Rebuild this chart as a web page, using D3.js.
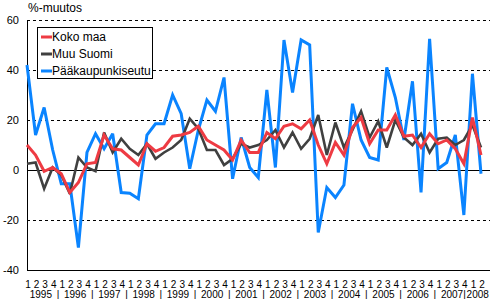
<!DOCTYPE html>
<html><head><meta charset="utf-8">
<script src="https://cdn.jsdelivr.net/npm/d3@7"></script>
<style>
html,body{margin:0;padding:0;background:#fff;}
svg{display:block;font-family:"Liberation Sans",Arial,sans-serif;}
</style></head>
<body><svg id="c" width="492" height="299"></svg>
<script>
const years = ["1995","1996","1997","1998","1999","2000","2001","2002","2003","2004","2005","2006","2007","2008"];
const quarters = ["1","2","3","4"];
const yTicks = [60, 40, 20, 0, -20, -40];
const kokoMaa = [10, 6, -0.5, 1, -1.5, -9, -5, 2.5, 3, 14, 8.5, 8, 5, 2, 10.5, 7.5, 9, 13.5, 14, 15, 17.5, 12, 10, 8, 4, 12, 7, 7, 15, 12.5, 17.5, 18.5, 16.5, 20, 10, 2.5, 11, 6, 17, 21, 10.5, 16, 16, 22, 13.5, 14, 9, 14.5, 10.5, 12, 8.5, 2.5, 21, 6];
const muuSuomi = [2.5, 3, -7.5, 1, -2, -9.5, 5, 1, -0.5, 15, 7, 12.5, 8.5, 6, 10.5, 4.5, 7, 9, 12, 20.5, 16.5, 8, 8, 2, 4.5, 10.5, 9, 10, 12, 16, 9, 15, 8.5, 12.5, 22, 6, 19, 9, 16, 23.5, 13, 19.5, 9, 20, 13, 10, 14.5, 7, 12.5, 13, 10, 12, 18, 9];
const paakaupunkiseutu = [42, 14, 25, 8, -5.5, -5.5, -31, 7, 14.5, 8.5, 14.5, -9, -9.3, -11.5, 14, 18.5, 18.5, 30, 22.5, 0.5, 16, 28, 23.5, 37, -3.5, 13, 1, -3, 32, 1, 52, 31, 52, 50, -25, -7, -11, -6, 26.5, 12, 5, 4, 41, 29, 12, 35.5, -9, 52.5, 0.5, 3, 14, -18, 38.5, -1.5];
const seriesNames = ["Koko maa", "Muu Suomi", "Pääkaupunkiseutu"];
const colors = ["#ee3b43", "#404040", "#0a84ff"];

const cats = [];
years.forEach(yr => quarters.forEach(q => { if (cats.length < kokoMaa.length) cats.push({y: yr, q}); }));
const idx = cats.map((d,i)=>i);

const svg = d3.select("#c");
const pL = 27, pR = 490, pT = 20, pB = 270;
const x = d3.scalePoint().domain(idx).range([27, 481]);
const y = d3.scaleLinear().domain([-40, 60]).range([pB, pT]);

svg.append("g").selectAll("line").data(yTicks.filter(t => t !== -40)).join("line")
  .attr("x1", pL).attr("x2", pR)
  .attr("y1", d => Math.round(y(d)) + 0.5).attr("y2", d => Math.round(y(d)) + 0.5)
  .attr("stroke", "#000").attr("stroke-width", 1)
  .attr("stroke-dasharray", d => d === 0 ? null : "3,3");
svg.append("line").attr("x1", pL + 0.5).attr("x2", pL + 0.5).attr("y1", pT).attr("y2", pB + 0.5).attr("stroke", "#000");
svg.append("line").attr("x1", pL).attr("x2", pR).attr("y1", pB + 0.5).attr("y2", pB + 0.5).attr("stroke", "#000");

svg.append("g").selectAll("text").data(yTicks).join("text")
  .attr("x", 19).attr("y", d => y(d)).attr("dy", "0.35em")
  .attr("text-anchor", "end").attr("font-size", 11).text(d => d);

svg.append("text").attr("x", 28).attr("y", 12).attr("font-size", 12).text("%-muutos");

const line = d3.line().x((d,i) => x(i)).y(d => y(d));
const data = [kokoMaa, muuSuomi, paakaupunkiseutu];
[2,1,0].forEach(k => {
  svg.append("path").datum(data[k]).attr("d", line)
    .attr("fill", "none").attr("stroke", colors[k])
    .attr("stroke-width", k === 1 ? 2.6 : 3).attr("stroke-linejoin", "miter").attr("stroke-miterlimit", 3);
});

svg.append("g").selectAll("text").data(cats).join("text")
  .attr("x", (d,i) => x(i) + 1).attr("y", 288)
  .attr("text-anchor", "middle").attr("font-size", 10).text(d => d.q);
const yearGroups = years.map(yr => {
  const ii = idx.filter(i => cats[i].y === yr);
  return {yr, first: ii[0], last: ii[ii.length-1]};
});
svg.append("g").selectAll("text").data(yearGroups).join("text")
  .attr("x", d => (x(d.first) + x(d.last)) / 2 + 1).attr("y", 298)
  .attr("text-anchor", "middle").attr("font-size", 10).text(d => d.yr);
svg.append("g").selectAll("text").data(yearGroups.slice(1)).join("text")
  .attr("x", d => d.yr === "2008" ? x(d.first) - 8 : (x(d.first) + x(d.first - 1)) / 2 + 1).attr("y", 298)
  .attr("text-anchor", "middle").attr("font-size", 10).text("|");

const lg = svg.append("g");
lg.append("rect").attr("x", 37.5).attr("y", 27.5).attr("width", 115).attr("height", 51)
  .attr("fill", "#fff").attr("stroke", "#000");
seriesNames.forEach((n, k) => {
  const cy = 37 + k * 17;
  lg.append("line").attr("x1", 41).attr("x2", 52).attr("y1", cy).attr("y2", cy)
    .attr("stroke", colors[k]).attr("stroke-width", 3);
  lg.append("text").attr("x", 52).attr("y", cy).attr("dy", "0.35em").attr("font-size", 12).text(n);
});
</script></body></html>
